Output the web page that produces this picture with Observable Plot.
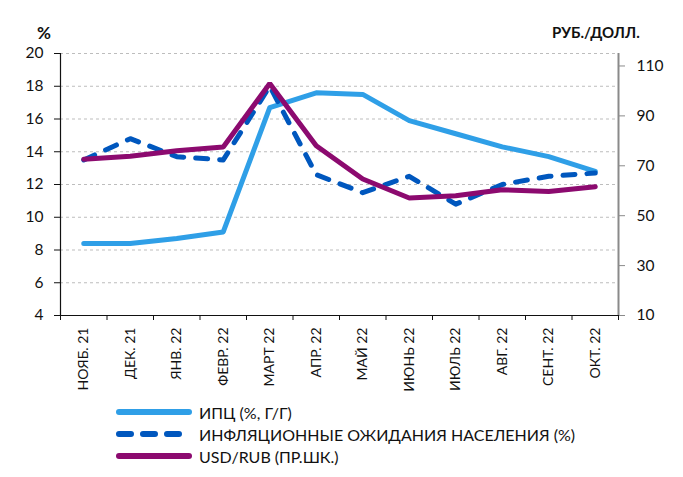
<!DOCTYPE html>
<html>
<head>
<meta charset="utf-8">
<script src="https://cdn.jsdelivr.net/npm/d3@7"></script>
<script src="https://cdn.jsdelivr.net/npm/@observablehq/plot@0.6"></script>
<style>
  body { margin: 0; background: #fff; font-family: Lato, "Open Sans", sans-serif; }
  #wrap { position: relative; width: 683px; height: 477px; }
  .lab { position: absolute; font-weight: bold; color: #111; }
  #legend { position: absolute; left: 114px; top: 401px; font-size: 16px; color: #111; }
  .row { display: flex; align-items: center; height: 22px; }
  .row svg { margin-right: 5px; }
</style>
</head>
<body>
<div id="wrap">
  <div id="chart"></div>
  <div class="lab" style="left:37px; top:22px; font-size:17px;">%</div>
  <div class="lab" style="left:552px; top:23px; font-size:15px;">РУБ./ДОЛЛ.</div>
  <div id="legend"></div>
</div>
<script>
const months = ["НОЯБ. 21","ДЕК. 21","ЯНВ. 22","ФЕВР. 22","МАРТ 22","АПР. 22","МАЙ 22","ИЮНЬ 22","ИЮЛЬ 22","АВГ. 22","СЕНТ. 22","ОКТ. 22"];
const cpi = [8.4, 8.4, 8.7, 9.1, 16.7, 17.6, 17.5, 15.9, 15.1, 14.3, 13.7, 12.8];
const expectations = [13.5, 14.8, 13.7, 13.5, 18.0, 12.6, 11.5, 12.5, 10.8, 12.0, 12.5, 12.7];
const usdrub = [72.6, 73.8, 76.0, 77.5, 103.0, 78.0, 64.7, 57.1, 58.0, 60.4, 59.7, 61.6];
const leftTicks = [4, 6, 8, 10, 12, 14, 16, 18, 20];
const rightTicks = [10, 30, 50, 70, 90, 110];
const leftDomain = [4, 20];
const rightDomain = [10, 115];

const seriesNames = ["ИПЦ (%, Г/Г)", "ИНФЛЯЦИОННЫЕ ОЖИДАНИЯ НАСЕЛЕНИЯ (%)", "USD/RUB (ПР.ШК.)"];
const colors = ["#2F9FE7", "#0057BE", "#8C0A6F"];

// map right-axis values into left-axis units
const toLeft = d3.scaleLinear().domain(rightDomain).range(leftDomain);

const cpiData = cpi.map((v, i) => ({i, v}));
const expData = expectations.map((v, i) => ({i, v}));
const rubData = usdrub.map((v, i) => ({i, v: toLeft(v)}));

const chart = Plot.plot({
  width: 683,
  height: 400,
  marginLeft: 60,
  marginRight: 65,
  marginTop: 53,
  marginBottom: 85,
  style: {fontFamily: "Lato, 'Open Sans', sans-serif", color: "#111", background: "#fff"},
  x: {type: "linear", domain: [-0.5, 11.5], axis: null},
  y: {type: "linear", domain: leftDomain, axis: null},
  marks: [
    Plot.gridY(leftTicks.slice(1), {stroke: "#bdbdbd", strokeOpacity: 1, strokeDasharray: "3,3"}),
    Plot.ruleY([leftDomain[0]], {stroke: "#111", strokeWidth: 1.2}),
    Plot.ruleX([-0.5], {stroke: "#111", strokeWidth: 1.2}),
    Plot.ruleX([11.5], {stroke: "#8a8a8a", strokeWidth: 2}),
    Plot.axisY({ticks: leftTicks, tickSize: 6, tickPadding: 11, fontSize: 15.5, tickFormat: d => d, stroke: "#111", label: null}),
    Plot.axisY({anchor: "right", ticks: rightTicks.map(toLeft), tickSize: 6, tickPadding: 12, fontSize: 15.5,
                tickFormat: d => Math.round(toLeft.invert(d)), stroke: "#8a8a8a", fill: "#111", label: null}),
    Plot.axisX({ticks: d3.range(13).map(k => k - 0.5), tickSize: 5, tickFormat: () => "", stroke: "#111", label: null}),
    Plot.axisX({ticks: d3.range(12), tickSize: 0, tickPadding: 12, tickRotate: -90, fontSize: 14,
                tickFormat: k => months[k], fill: "#111", label: null}),
    Plot.line(cpiData, {x: "i", y: "v", stroke: colors[0], strokeWidth: 5, strokeLinejoin: "round"}),
    Plot.line(expData, {x: "i", y: "v", stroke: colors[1], strokeWidth: 5, strokeDasharray: "12,12", strokeLinecap: "round", strokeLinejoin: "round"}),
    Plot.line(rubData, {x: "i", y: "v", stroke: colors[2], strokeWidth: 5, strokeLinejoin: "miter"})
  ]
});
document.getElementById("chart").appendChild(chart);

// legend
const legend = d3.select("#legend");
seriesNames.forEach((name, k) => {
  const row = legend.append("div").attr("class", "row");
  const svg = row.append("svg").attr("width", 80).attr("height", 22);
  const ln = svg.append("line").attr("x1", 5).attr("x2", 75).attr("y1", 11).attr("y2", 11)
    .attr("stroke", colors[k]).attr("stroke-width", 6).attr("stroke-linecap", "round");
  if (k === 1) ln.attr("stroke-dasharray", "12,12").attr("x2", 73);
  row.append("span").text(name);
});
</script>
</body>
</html>
